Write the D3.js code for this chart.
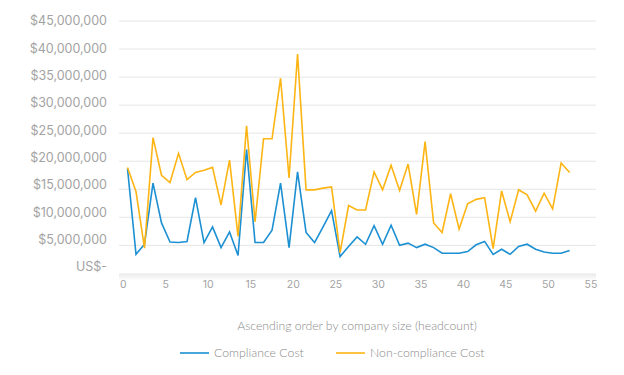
<!DOCTYPE html>
<html>
<head>
<meta charset="utf-8">
<script src="https://cdnjs.cloudflare.com/ajax/libs/d3/7.8.5/d3.min.js"></script>
<style>
  html, body { margin: 0; padding: 0; background: #fff; }
  svg { display: block; }
  .tick-lbl { font-family: Inter, "Open Sans", sans-serif; fill: #a3a3a3; }
  .soft { font-family: Lato, "Open Sans", sans-serif; font-weight: 300; fill: #8a8a8a; }
</style>
</head>
<body>
<div id="chart"></div>
<script>
// companies in ascending order by headcount (values in US$ millions)
const complianceCost = [
  18.7, 3.4, 5.2, 16.1, 9.0, 5.6, 5.5, 5.7, 13.5, 5.5,
  8.3, 4.6, 7.4, 3.2, 22.1, 5.5, 5.5, 7.7, 16.1, 4.6,
  18.1, 7.3, 5.5, 8.3, 11.2, 3.0, 4.8, 6.5, 5.2, 8.5,
  5.2, 8.6, 5.0, 5.4, 4.6, 5.2, 4.6, 3.6, 3.6, 3.6,
  3.9, 5.1, 5.7, 3.4, 4.3, 3.4, 4.8, 5.2, 4.3, 3.8,
  3.6, 3.6, 4.1
];
const nonComplianceCost = [
  18.9, 14.6, 4.5, 24.2, 17.5, 16.2, 21.4, 16.7, 18.0, 18.4,
  18.9, 12.2, 20.2, 6.6, 26.3, 9.2, 24.0, 24.0, 34.8, 17.0,
  39.1, 14.9, 14.9, 15.2, 15.4, 3.7, 12.1, 11.3, 11.3, 18.1,
  14.9, 19.3, 14.8, 19.5, 10.5, 23.5, 9.0, 7.3, 14.2, 7.9,
  12.4, 13.2, 13.5, 4.4, 14.7, 9.2, 14.9, 14.0, 11.1, 14.3,
  11.5, 19.7, 18.0
];
const yTicks = [0, 5, 10, 15, 20, 25, 30, 35, 40, 45];
const xTicks = [0, 5, 10, 15, 20, 25, 30, 35, 40, 45, 50, 55];
const series = [
  { name: "Compliance Cost", values: complianceCost, color: "#1c90d2" },
  { name: "Non-compliance Cost", values: nonComplianceCost, color: "#fdb515" }
];

const W = 624, H = 375;
const svg = d3.select("#chart").append("svg")
  .attr("width", W).attr("height", H)
  .attr("viewBox", [0, 0, W, H]);

const x = d3.scaleLinear().domain([-0.5, 55.6]).range([119, 596]);
const y = d3.scaleLinear().domain([0, 45]).range([273.4, 21]);
// value labels sit slightly tighter than the gridlines in the original
const yLbl = d3.scaleLinear().domain([0, 45]).range([267, 21]);

// soft shadow under the plot floor
const grad = svg.append("defs").append("linearGradient")
  .attr("id", "floor").attr("x1", 0).attr("x2", 0).attr("y1", 0).attr("y2", 1);
grad.append("stop").attr("offset", "0%").attr("stop-color", "#e9e9e9");
grad.append("stop").attr("offset", "100%").attr("stop-color", "#ffffff");
svg.append("rect")
  .attr("x", x.range()[0]).attr("width", x.range()[1] - x.range()[0])
  .attr("y", y(0)).attr("height", 7)
  .attr("fill", "url(#floor)");

// gridlines
svg.append("g").selectAll("line")
  .data(yTicks.filter(d => d > 0))
  .join("line")
  .attr("x1", x.range()[0]).attr("x2", x.range()[1])
  .attr("y1", d => y(d)).attr("y2", d => y(d))
  .attr("stroke", "#e6e6e6").attr("stroke-width", 1);

// y labels
svg.append("g").selectAll("text")
  .data(yTicks)
  .join("text")
  .attr("class", "tick-lbl")
  .attr("x", 107)
  .attr("y", d => yLbl(d))
  .attr("dy", "0.35em")
  .attr("text-anchor", "end")
  .style("font-size", "12.5px")
  .text(d => d === 0 ? "US$-" : "$" + d3.format(",")(d * 1e6));

// x labels
svg.append("g").selectAll("text")
  .data(xTicks)
  .join("text")
  .attr("class", "tick-lbl")
  .attr("x", d => x(d))
  .attr("y", 284)
  .attr("dy", "0.35em")
  .attr("text-anchor", "middle")
  .style("font-size", "10.5px")
  .text(d => d);

// lines, one point per company centred in its slot
const line = d3.line()
  .x((d, i) => x(i + 0.5))
  .y(d => y(d));

svg.append("g").selectAll("path")
  .data(series)
  .join("path")
  .attr("d", d => line(d.values))
  .attr("fill", "none")
  .attr("stroke", d => d.color)
  .attr("stroke-width", 1.6)
  .attr("stroke-linejoin", "miter");

// axis title
svg.append("text")
  .attr("class", "soft")
  .attr("x", 357).attr("y", 326)
  .attr("dy", "0.35em")
  .attr("text-anchor", "middle")
  .style("font-size", "12.2px")
  .text("Ascending order by company size (headcount)");

// legend
const legendX = [180, 336];
const legend = svg.append("g").selectAll("g")
  .data(series)
  .join("g")
  .attr("transform", (d, i) => `translate(${legendX[i]},353)`);
legend.append("line")
  .attr("x1", 0).attr("x2", 29)
  .attr("stroke", d => d.color).attr("stroke-width", 1.6);
legend.append("text")
  .attr("class", "soft")
  .attr("x", 34).attr("dy", "0.35em")
  .style("font-size", "12.3px")
  .text(d => d.name);
</script>
</body>
</html>
